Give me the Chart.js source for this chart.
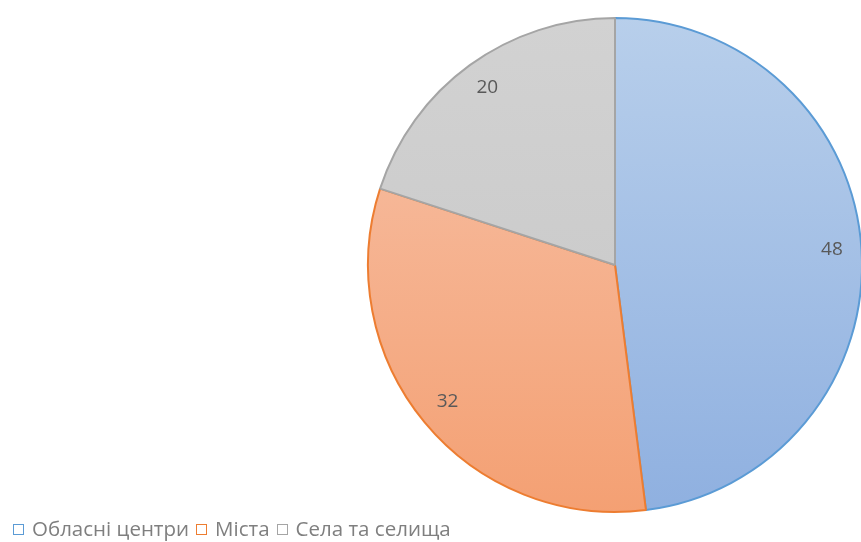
<!DOCTYPE html>
<html>
<head>
<meta charset="utf-8">
<script src="https://cdn.jsdelivr.net/npm/chart.js@4"></script>
<style>
  body { margin: 0; background: #fff; }
  #wrap { position: relative; width: 861px; height: 542px; overflow: hidden; }
  #wrap canvas { position: absolute; left: 0; top: 0; }
  #legend { position: absolute; left: 13px; top: 515px; line-height: 26px; font-family: "Open Sans", sans-serif; font-size: 20.5px; color: #7f7f7f; white-space: nowrap; }
  #legend span.box { display: inline-block; width: 9px; height: 9px; border: 1.5px solid; margin-right: 8px; vertical-align: 1px; }
  #legend span.item { margin-right: 7px; }
</style>
</head>
<body>
<div id="wrap">
  <canvas id="myChart" width="880" height="542" style="width:880px;height:542px"></canvas>
  <div id="legend"></div>
</div>
<script>
const categories = ['Обласні центри', 'Міста', 'Села та селища'];
const values = [48, 32, 20];
const borderColors = ['#5b9bd5', '#ed7d31', '#a5a5a5'];
const gradTop = ['#b8cfeb', '#f7c3aa', '#d2d2d2'];
const gradBottom = ['#8fb0e0', '#f4a073', '#c6c6c6'];

const legend = document.getElementById('legend');
categories.forEach(function (c, i) {
    const s = document.createElement('span');
    s.className = 'item';
    s.innerHTML = '<span class="box" style="border-color:' + borderColors[i] + '"></span>' + c;
    legend.appendChild(s);
});

const labelPlugin = {
    id: 'sliceLabels',
    afterDatasetsDraw: function (chart) {
        const ctx = chart.ctx;
        const meta = chart.getDatasetMeta(0);
        ctx.save();
        ctx.font = '19px "Open Sans", sans-serif';
        ctx.fillStyle = '#595959';
        ctx.textAlign = 'center';
        ctx.textBaseline = 'middle';
        meta.data.forEach(function (arc, i) {
            const p = arc.getProps(['x', 'y', 'startAngle', 'endAngle', 'outerRadius'], true);
            const mid = (p.startAngle + p.endAngle) / 2;
            const r = p.outerRadius * 0.88;
            ctx.fillText(String(values[i]), p.x + Math.cos(mid) * r, p.y + Math.sin(mid) * r - 2);
        });
        ctx.restore();
    }
};

const ctx = document.getElementById('myChart');
new Chart(ctx, {
    type: 'pie',
    data: {
        labels: categories,
        datasets: [{
            data: values,
            backgroundColor: function (c) {
                const area = c.chart.chartArea;
                if (!area) return gradTop[c.dataIndex];
                const g = c.chart.ctx.createLinearGradient(0, area.top, 0, area.bottom);
                g.addColorStop(0, gradTop[c.dataIndex]);
                g.addColorStop(1, gradBottom[c.dataIndex]);
                return g;
            },
            borderColor: borderColors,
            borderWidth: 2
        }]
    },
    options: {
        responsive: false,
        animation: false,
        layout: { padding: { left: 367, right: 17, top: 17, bottom: 29 } },
        plugins: {
            legend: { display: false },
            tooltip: { enabled: false }
        }
    },
    plugins: [labelPlugin]
});
</script>
</body>
</html>
